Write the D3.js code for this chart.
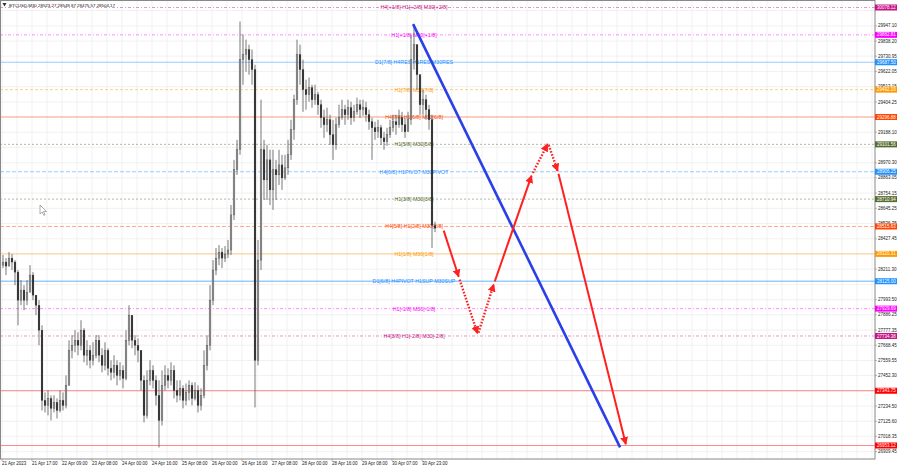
<!DOCTYPE html>
<html><head><meta charset="utf-8">
<script src="https://cdn.jsdelivr.net/npm/d3@7"></script>
<style>html,body{margin:0;padding:0;background:#fff;}svg{display:block;font-family:"Liberation Sans",Arial,sans-serif;}</style>
</head><body><svg id="c" width="900" height="468"></svg>
<script>
// ---- DATA ----
const header = "BTCUSD,M30  28523.27 28549.87 28475.57 28504.17";
const closes = [28262,28233,28290,28262,28190,27990,28062,27990,28047,28169,28026,27954,27776,27275,27239,27289,27218,27261,27203,27275,
27239,27382,27632,27668,27704,27668,27776,27597,27632,27561,27597,27704,27597,27525,27632,27504,27475,27525,27453,27489,
27432,27704,27883,27704,27668,27632,27418,27168,27418,27489,27418,27311,27132,27382,27453,27418,27489,27346,27311,27361,
27275,27332,27382,27289,27346,27239,27311,27525,27668,27990,28205,28290,28333,28290,28319,28348,28598,28920,29063,29706,
29742,29778,29706,29635,27561,28276,29063,28848,28991,28777,28920,28884,28955,28862,28934,29027,29206,29420,29742,29635,
29492,29456,29506,29420,29456,29384,29291,29241,29277,29170,29098,29241,29291,29349,29313,29363,29291,29334,29384,29349,
29363,29313,29263,29220,29191,29220,29148,29120,29170,29220,29263,29241,29291,29241,29191,29277,29706,29813,29599,29384,
29420,29349,29277,28523,28504.17];
const highs = [28312,28290,28333,28319,28276,28205,28133,28097,28133,28240,28190,28026,27990,27811,27332,27346,27311,27311,27289,27346,
27332,27453,27704,27740,27776,27761,27847,27790,27704,27668,27690,27740,27740,27647,27690,27647,27561,27597,27561,27547,
27525,27776,27954,27861,27740,27718,27632,27453,27489,27561,27525,27453,27418,27489,27525,27504,27547,27525,27418,27418,
27382,27396,27418,27404,27404,27382,27361,27632,27740,28097,28276,28362,28383,28362,28376,28419,28669,28991,29134,29978,
29885,29849,29813,29778,29670,28419,29420,29134,29098,29063,29063,28991,29063,29027,29027,29134,29277,29456,29849,29813,
29706,29563,29578,29527,29527,29477,29420,29349,29363,29313,29277,29291,29384,29420,29384,29420,29406,29384,29435,29420,
29420,29406,29349,29291,29263,29277,29241,29191,29220,29277,29313,29313,29349,29334,29291,29334,29885,29957,29813,29492,
29492,29456,29384,29313,28549.87];
const lows = [28219,28169,28233,28205,28097,27811,27954,27918,27954,28062,27990,27883,27668,27203,27189,27168,27132,27189,27146,27189,
27203,27218,27382,27575,27618,27597,27632,27547,27525,27504,27525,27575,27547,27475,27489,27453,27418,27432,27382,27418,
27361,27418,27668,27647,27597,27547,27346,27118,27146,27382,27361,27239,26939,27096,27346,27361,27382,27289,27261,27275,
27218,27239,27275,27239,27275,27189,27203,27289,27489,27632,27954,28169,28240,28219,28262,28290,28312,28562,28884,29027,
29527,29620,29599,29527,27225,27525,28205,28705,28705,28669,28634,28705,28812,28777,28848,28884,28991,29134,29384,29527,
29334,29349,29406,29363,29384,29313,29220,29148,29191,29098,28991,29063,29220,29277,29241,29277,29241,29263,29313,29291,
29306,29263,29206,28991,29134,29148,29098,29063,29091,29148,29191,29170,29220,29191,29148,29206,29241,29635,29492,29313,
29313,29277,29206,28362,28475.57];
const firstOpen = 28240;

const xTickIdx = [0,10,20,30,40,50,60,70,80,90,100,110,120,130,140];
const xTickLabels = ["21 Apr 2023","21 Apr 17:00","22 Apr 09:00","23 Apr 08:00","24 Apr 00:00","24 Apr 16:00","25 Apr 08:00",
"26 Apr 00:00","26 Apr 16:00","27 Apr 08:00","28 Apr 00:00","28 Apr 16:00","29 Apr 08:00","30 Apr 07:00","30 Apr 23:00"];

const yTickValues = [29947.10,29838.20,29730.95,29622.05,29513.15,29404.25,29188.10,28970.30,28863.05,28754.15,28645.25,
28536.35,28427.45,28211.30,27993.50,27886.25,27777.35,27668.45,27559.55,27452.30,27234.50,27125.60,27018.35,26909.45];
const yTickHidden = [30056.00,29296.20,29079.20,28319.40,28102.40,27343.40];

const levelPrices = [30078.12,29882.81,29687.50,29492.19,29296.88,29101.56,28906.25,28710.94,28515.63,28320.31,28125.00,27929.69,27734.38,27343.75,26953.12];
const levelTexts = ["H4[+1/8] H1[+2/8] M30[+2/8]","H1[+1/8] M30[+1/8]","D1[7/8] H4RES H1RES M30RES","H1[7/8] M30[7/8]",
"H4[7/8] H1[6/8] M30[6/8]","H1[5/8] M30[5/8]","H4[6/8] H1PIVOT M30PIVOT","H1[3/8] M30[3/8]","H4[5/8] H1[2/8] M30[2/8]",
"H1[1/8] M30[1/8]","D1[6/8] H4PIVOT H1SUP M30SUP","H1[-1/8] M30[-1/8]","H4[3/8] H1[-2/8] M30[-2/8]","",""];
const levelColors = ["#C71585","#FF00FF","#1E90FF","#FF9900","#FF4500","#556B2F","#1E90FF","#556B2F","#FF4500","#FF9900","#1E90FF","#FF00FF","#C71585","#FF0000","#FF0000"];
const levelDash = ["3,2,1,2","3,2,1,2",null,"3,2",null,"2,2","4,2","2,2","4,2",null,null,"3,2,1,2","3,2,1,2",null,null];

// forecast (bar index, price)
const blueIdx = [136.7,205.7];
const bluePrice = [29960,26940];
const redIdx = [146.7,152,158.3,163.7,176.3,181.7,185,207.7];
const redPrice = [28500,28150,27745,28110,28885,29110,28905,26955];
const redSegDotted = [false,true,true,false,true,true,false];

// ---- LAYOUT ----
const right = 875, bottom = 459;
const svg = d3.select("#c");
const x = d3.scaleLinear().domain([0,144]).range([3,435]);
const y = d3.scaleLinear().domain([26953.12,30078.12]).range([445.5,7.5]);

svg.append("rect").attr("width",900).attr("height",468).attr("fill","#fff");

// grid
const g = svg.append("g");
d3.range(0,300,5).map(i=>x(i)-1).filter(v=>v>0&&v<right).forEach(v=>{
  g.append("line").attr("x1",v).attr("x2",v).attr("y1",0).attr("y2",bottom).attr("stroke","#ebebeb").attr("stroke-width",0.7);
});
yTickValues.concat(yTickHidden).forEach(p=>{
  g.append("line").attr("x1",0).attr("x2",right).attr("y1",y(p)).attr("y2",y(p)).attr("stroke","#ebebeb").attr("stroke-width",0.7);
});

// level lines
levelPrices.forEach((p,k)=>{
  svg.append("line").attr("x1",0).attr("x2",right).attr("y1",y(p)).attr("y2",y(p))
    .attr("stroke",levelColors[k]).attr("stroke-opacity",0.45)
    .attr("stroke-width",k===10?1.6:1)
    .attr("stroke-dasharray",levelDash[k]);
});
levelPrices.forEach((p,k)=>{
  if(!levelTexts[k]) return;
  svg.append("text").attr("x",414).attr("y",y(p)+1.9).attr("text-anchor","middle")
    .attr("font-size",5.3).attr("fill",levelColors[k]).text(levelTexts[k]);
});

// candles
const cg = svg.append("g");
closes.forEach((c,i)=>{
  const o = i===0?firstOpen:closes[i-1];
  const xi = x(i);
  cg.append("line").attr("x1",xi).attr("x2",xi).attr("y1",y(highs[i])).attr("y2",y(lows[i]))
    .attr("stroke","#555").attr("stroke-width",0.8);
  const top = y(Math.max(o,c)), h = Math.max(0.8, Math.abs(y(o)-y(c)));
  cg.append("rect").attr("x",xi-0.9).attr("y",top).attr("width",1.8).attr("height",h)
    .attr("fill",c>=o?"#9a9a9a":"#2a2a2a").attr("stroke","#3a3a3a").attr("stroke-width",0.3);
});

// forecast
const defs = svg.append("defs");
defs.append("marker").attr("id","ah").attr("markerUnits","userSpaceOnUse").attr("markerWidth",8).attr("markerHeight",8)
  .attr("viewBox","0 0 10 10").attr("refX",9).attr("refY",5).attr("orient","auto")
  .append("path").attr("d","M0,0L10,5L0,10z").attr("fill","#ff2020");
svg.append("line").attr("x1",x(blueIdx[0])).attr("y1",y(bluePrice[0])).attr("x2",x(blueIdx[1])).attr("y2",y(bluePrice[1]))
  .attr("stroke","#2b3fe8").attr("stroke-width",2.6);
for(let k=0;k<redIdx.length-1;k++){
  const x1=x(redIdx[k]),y1=y(redPrice[k]),x2=x(redIdx[k+1]),y2=y(redPrice[k+1]);
  const dx=x2-x1, dy=y2-y1, L=Math.hypot(dx,dy), s=2/L;
  svg.append("line").attr("x1",x1+dx*s).attr("y1",y1+dy*s).attr("x2",x2-dx*s*0.5).attr("y2",y2-dy*s*0.5)
    .attr("stroke","#ff2020").attr("stroke-width",redSegDotted[k]?2.4:2)
    .attr("stroke-dasharray",redSegDotted[k]?"1.6,1.6":null)
    .attr("marker-end","url(#ah)");
}

// cursor
svg.append("path").attr("d","M40,205 L40,214 L42.2,212 L43.8,215.4 L45,214.8 L43.5,211.5 L46.5,211.5 Z")
  .attr("fill","#fff").attr("stroke","#777").attr("stroke-width",0.6);

// frame / axes
svg.append("rect").attr("x",0.5).attr("y",0.5).attr("width",right-0.5).attr("height",bottom-0.5)
  .attr("fill","none").attr("stroke","#888").attr("stroke-width",1);

const ya = svg.append("g").attr("font-size",4.5).attr("fill","#222");
yTickValues.forEach(p=>{
  ya.append("line").attr("x1",right).attr("x2",right+2).attr("y1",y(p)).attr("y2",y(p)).attr("stroke","#888").attr("stroke-width",0.6);
  ya.append("text").attr("x",right+3).attr("y",y(p)+1.6).text(p.toFixed(2));
});
const xa = svg.append("g").attr("font-size",4.5).attr("fill","#222");
xTickIdx.forEach((i,k)=>{
  const xi = x(i)-1;
  xa.append("line").attr("x1",xi).attr("x2",xi).attr("y1",bottom).attr("y2",bottom+2).attr("stroke","#888").attr("stroke-width",0.6);
  xa.append("text").attr("x",Math.max(1,xi)).attr("y",bottom+5.5).text(xTickLabels[k]);
});

// price tags
levelPrices.forEach((p,k)=>{
  svg.append("rect").attr("x",right).attr("y",y(p)-3).attr("width",22).attr("height",6).attr("fill",levelColors[k]);
  svg.append("text").attr("x",right+2).attr("y",y(p)+1.6).attr("font-size",4.5).attr("fill","#fff").text(p.toFixed(2));
});

// header
svg.append("path").attr("d","M2.5,3 L6.5,3 L4.5,6.5 Z").attr("fill","#333");
svg.append("text").attr("x",9).attr("y",6.5).attr("font-size",4.4).attr("fill","#111").text(header);
</script></body></html>
